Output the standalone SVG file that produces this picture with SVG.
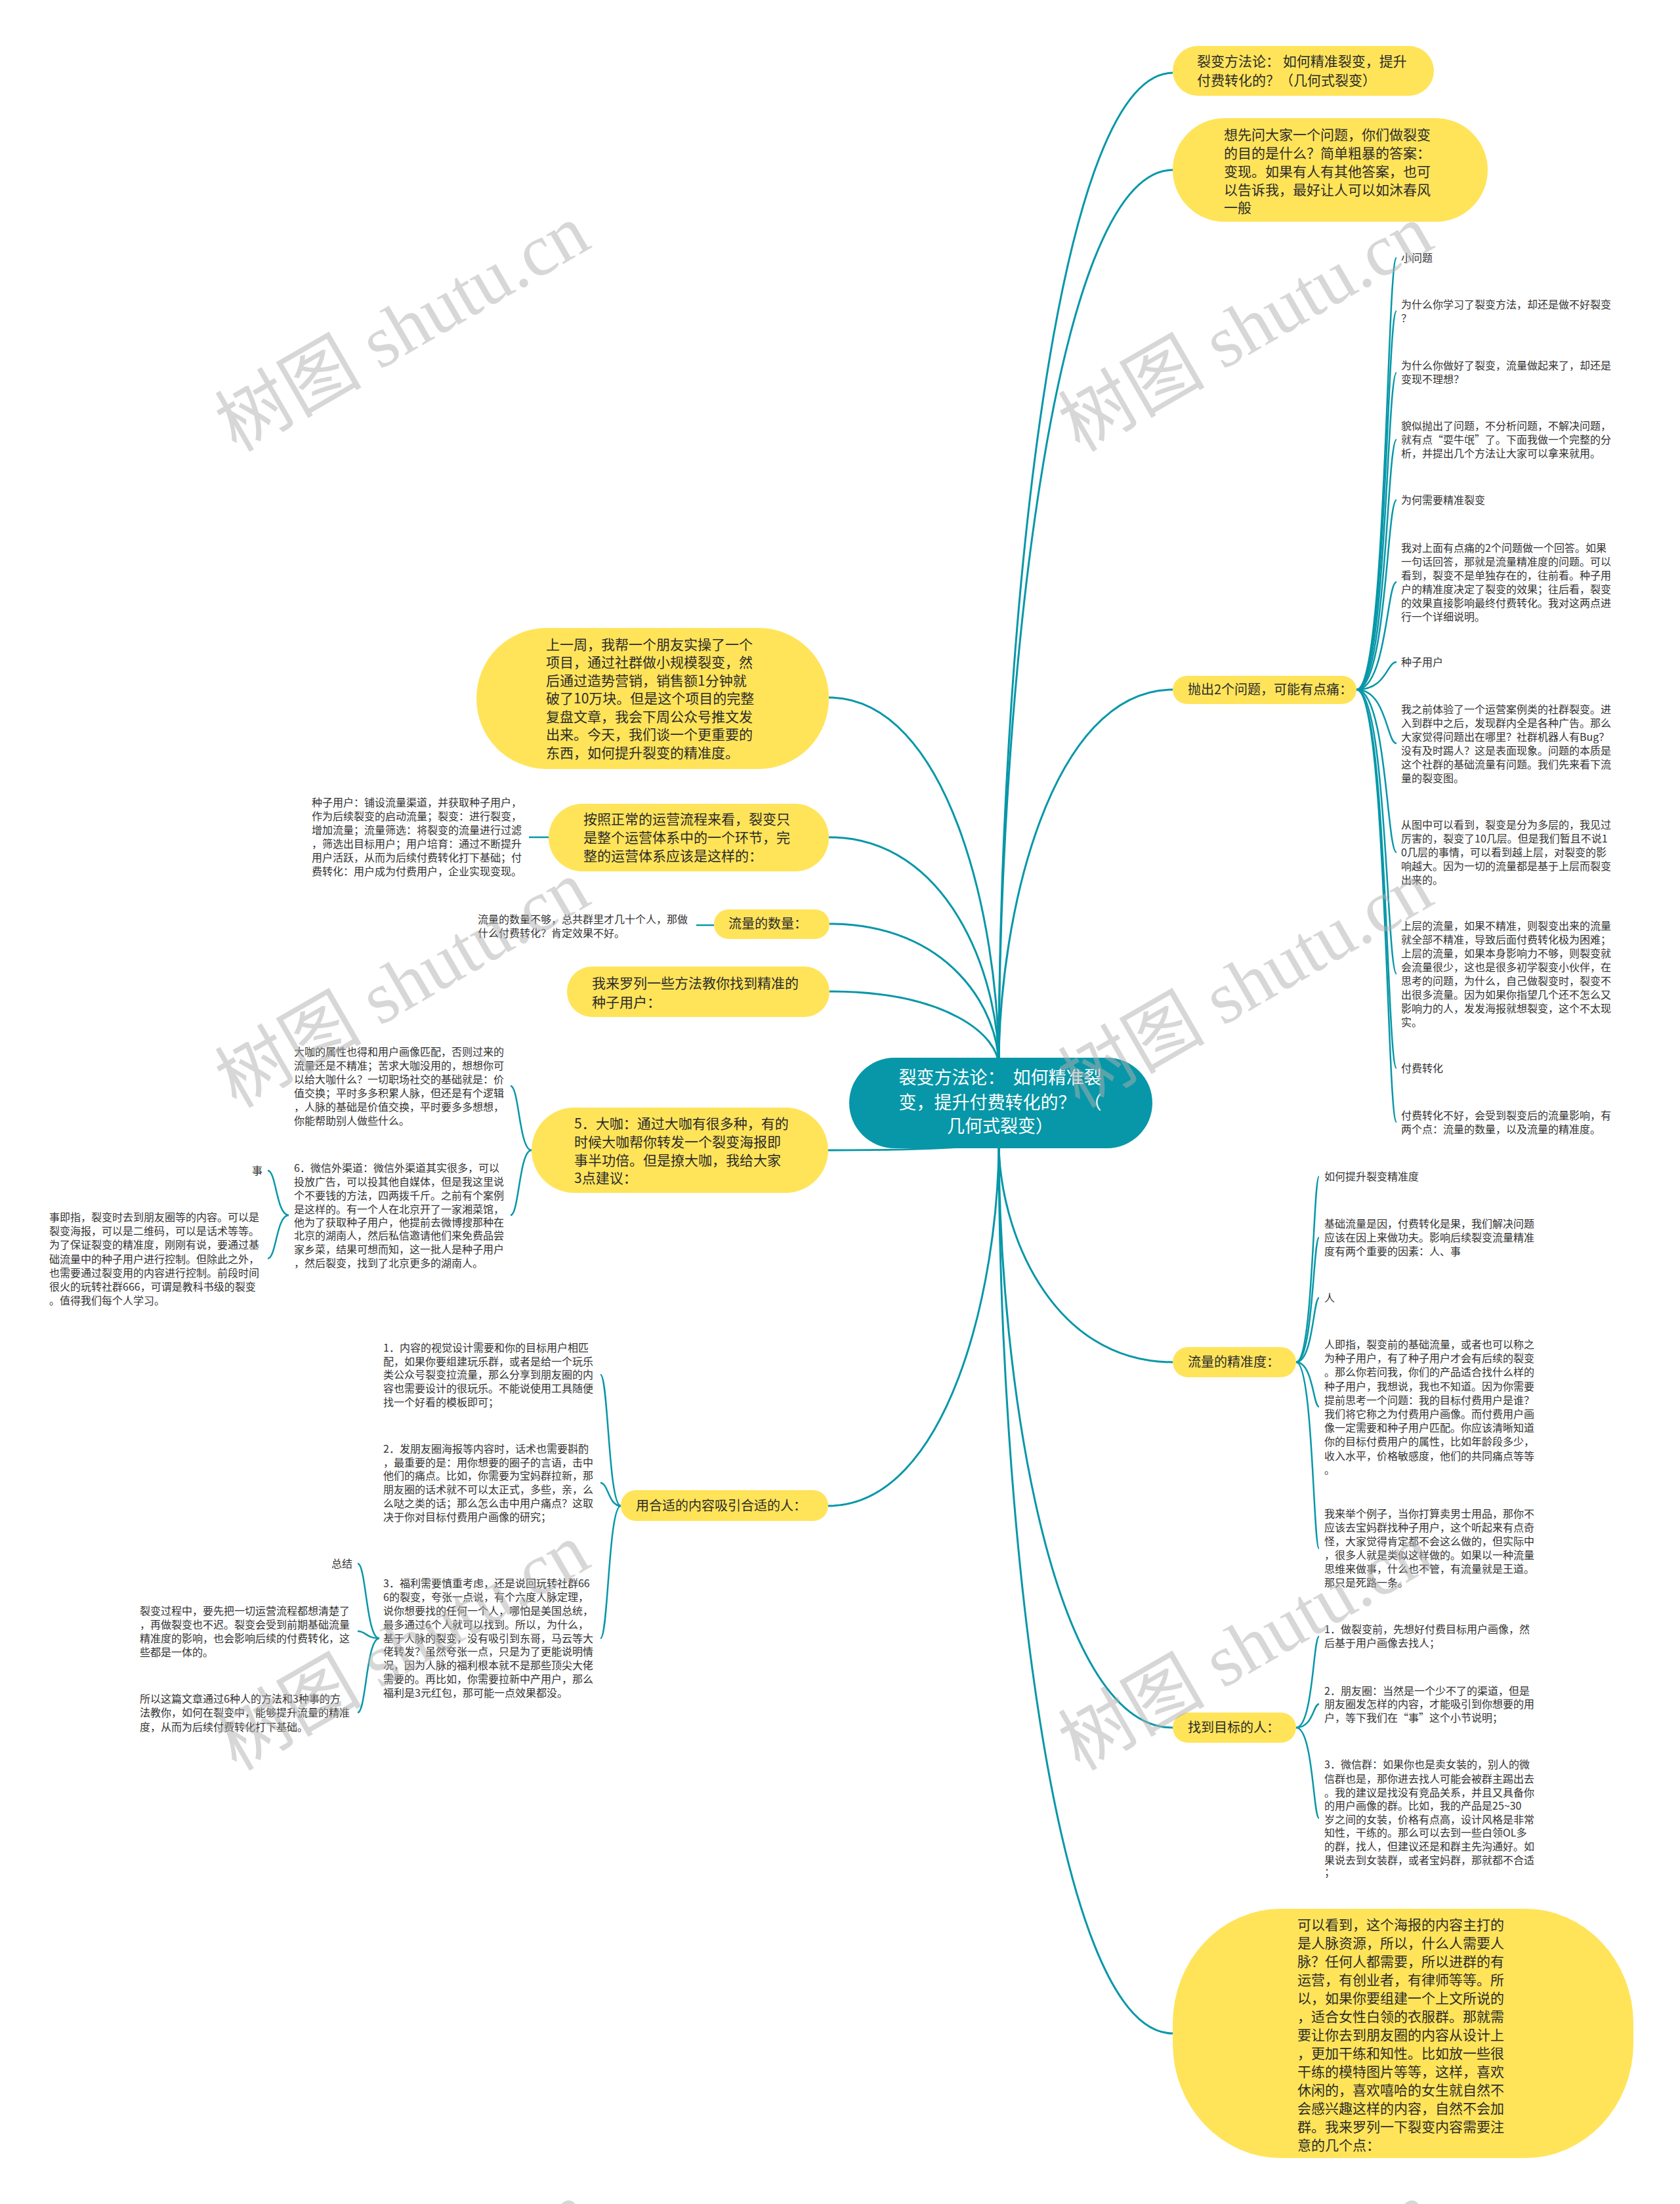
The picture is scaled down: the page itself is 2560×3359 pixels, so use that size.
<svg xmlns="http://www.w3.org/2000/svg" width="2560" height="3359" viewBox="0 0 2560 3359">
<style>
.bg{fill:#ffffff}
.c{fill:none;stroke:#0797A8;stroke-width:3}
.s{fill:none;stroke:#0797A8;stroke-width:2.5}
.y{fill:#FFE45A}
.r{fill:#0797A8}
.rt{font-family:"Noto Sans CJK SC","Noto Sans",sans-serif;font-size:27px;fill:#ffffff}
.t21{font-family:"Noto Sans CJK SC","Noto Sans",sans-serif;font-size:21px;fill:#2b2b2b}
.t20{font-family:"Noto Sans CJK SC","Noto Sans",sans-serif;font-size:20px;fill:#2b2b2b}
.t16{font-family:"Noto Sans CJK SC","Noto Sans",sans-serif;font-size:16px;fill:#333333}
.wm{font-family:"Liberation Serif","Noto Sans CJK SC",serif;font-size:112px;fill:#b0b0b0;opacity:0.5}
</style>
<rect class="bg" x="0" y="0" width="2560" height="3359"/>

<g id="connectors">
<path class="c" d="M1522,1625 C1522,1019 1601,111 1787,111"/>
<path class="c" d="M1522,1625 C1522,1079 1601,259 1787,259"/>
<path class="c" d="M1522,1625 C1522,1395 1601,1051 1787,1051"/>
<path class="c" d="M1522,1625 C1522,1400 1444,1063 1263,1063"/>
<path class="c" d="M1522,1625 C1522,1485 1444,1276 1263,1276"/>
<path class="c" d="M1522,1625 C1522,1538 1445,1408 1264,1408"/>
<path class="c" d="M1522,1625 C1522,1579 1445,1511 1264,1511"/>
<path class="c" d="M1522,1740 C1522,1745 1444,1753 1262,1753"/>
<path class="c" d="M1522,1740 C1522,1962 1444,2295 1262,2295"/>
<path class="c" d="M1522,1740 C1522,1874 1601,2076 1787,2076"/>
<path class="c" d="M1522,1740 C1522,2097 1601,2633 1787,2633"/>
<path class="c" d="M1522,1740 C1522,2284 1601,3099 1787,3099"/>

<path class="s" d="M2067,1051 C2113,1051 2113,393 2128,393"/>
<path class="s" d="M2067,1051 C2113,1051 2113,474 2128,474"/>
<path class="s" d="M2067,1051 C2113,1051 2113,568 2128,568"/>
<path class="s" d="M2067,1051 C2113,1051 2113,670 2128,670"/>
<path class="s" d="M2067,1051 C2113,1051 2113,762 2128,762"/>
<path class="s" d="M2067,1051 C2113,1051 2113,887 2128,887"/>
<path class="s" d="M2067,1051 C2113,1051 2113,1009 2128,1009"/>
<path class="s" d="M2067,1051 C2113,1051 2113,1133 2128,1133"/>
<path class="s" d="M2067,1051 C2113,1051 2113,1299 2128,1299"/>
<path class="s" d="M2067,1051 C2113,1051 2113,1484 2128,1484"/>
<path class="s" d="M2067,1051 C2113,1051 2113,1628 2128,1628"/>
<path class="s" d="M2067,1051 C2113,1051 2113,1710 2128,1710"/>

<path class="s" d="M1975,2076 C2001,2076 2001,1793 2010,1793"/>
<path class="s" d="M1975,2076 C2001,2076 2001,1886 2010,1886"/>
<path class="s" d="M1975,2076 C2001,2076 2001,1978 2010,1978"/>
<path class="s" d="M1975,2076 C2001,2076 2001,2144 2010,2144"/>
<path class="s" d="M1975,2076 C2001,2076 2001,2360 2010,2360"/>

<path class="s" d="M1975,2633 C2001,2633 2001,2494 2010,2494"/>
<path class="s" d="M1975,2633 C2001,2633 2001,2597 2010,2597"/>
<path class="s" d="M1975,2633 C2001,2633 2001,2771 2010,2771"/>

<path class="s" d="M836,1276 L806,1276"/>
<path class="s" d="M1088,1410 L1061,1410"/>

<path class="s" d="M810,1753 C791,1753 791,1655 778,1655"/>
<path class="s" d="M810,1753 C791,1753 791,1852 778,1852"/>

<path class="s" d="M440,1852 C421,1852 421,1784 408,1784"/>
<path class="s" d="M440,1852 C421,1852 421,1918 408,1918"/>

<path class="s" d="M946,2295 C927,2295 927,2095 915,2095"/>
<path class="s" d="M946,2295 C927,2295 927,2260 915,2260"/>
<path class="s" d="M946,2295 C927,2295 927,2497 915,2497"/>

<path class="s" d="M578,2497 C558,2497 558,2383 545,2383"/>
<path class="s" d="M578,2497 C558,2497 558,2486 545,2486"/>
<path class="s" d="M578,2497 C558,2497 558,2610 545,2610"/>
</g>

<g id="root">
<rect class="r" x="1294" y="1612" width="462" height="138" rx="69"/>
<text class="rt" text-anchor="middle"><tspan x="1524" y="1652">裂变方法论：&#160;&#160;如何精准裂</tspan><tspan x="1524" y="1690">变，提升付费转化的？&#160;&#160;（</tspan><tspan x="1524" y="1726">几何式裂变）</tspan></text>
</g>

<g id="n1">
<rect class="y" x="1787" y="70" width="398" height="76" rx="38"/>
<text class="t21"><tspan x="1824" y="101">裂变方法论：&#160;如何精准裂变，提升</tspan><tspan x="1824" y="130">付费转化的？（几何式裂变）</tspan></text>
</g>

<g id="n2">
<rect class="y" x="1787" y="180" width="480" height="158" rx="79"/>
<text class="t21"><tspan x="1865" y="213">想先问大家一个问题，你们做裂变</tspan><tspan x="1865" y="241">的目的是什么？简单粗暴的答案：</tspan><tspan x="1865" y="269">变现。如果有人有其他答案，也可</tspan><tspan x="1865" y="297">以告诉我，最好让人可以如沐春风</tspan><tspan x="1865" y="324">一般</tspan></text>
</g>

<g id="n3">
<rect class="y" x="1787" y="1030" width="280" height="43" rx="21.5"/>
<text class="t20" x="1810" y="1058">抛出2个问题，可能有点痛：</text>
</g>
<g id="n3a"><text class="t16" x="2135" y="399">小问题</text></g>
<g id="n3b"><text class="t16"><tspan x="2135" y="470">为什么你学习了裂变方法，却还是做不好裂变</tspan><tspan x="2135" y="491">？</tspan></text></g>
<g id="n3c"><text class="t16"><tspan x="2135" y="563">为什么你做好了裂变，流量做起来了，却还是</tspan><tspan x="2135" y="584">变现不理想？</tspan></text></g>
<g id="n3d"><text class="t16"><tspan x="2135" y="655">貌似抛出了问题，不分析问题，不解决问题，</tspan><tspan x="2135" y="676">就有点“耍牛氓”了。下面我做一个完整的分</tspan><tspan x="2135" y="697">析，并提出几个方法让大家可以拿来就用。</tspan></text></g>
<g id="n3e"><text class="t16" x="2135" y="768">为何需要精准裂变</text></g>
<g id="n3f"><text class="t16"><tspan x="2135" y="841">我对上面有点痛的2个问题做一个回答。如果</tspan><tspan x="2135" y="862">一句话回答，那就是流量精准度的问题。可以</tspan><tspan x="2135" y="883">看到，裂变不是单独存在的，往前看。种子用</tspan><tspan x="2135" y="904">户的精准度决定了裂变的效果；往后看，裂变</tspan><tspan x="2135" y="925">的效果直接影响最终付费转化。我对这两点进</tspan><tspan x="2135" y="946">行一个详细说明。</tspan></text></g>
<g id="n3g"><text class="t16" x="2135" y="1015">种子用户</text></g>
<g id="n3h"><text class="t16"><tspan x="2135" y="1087">我之前体验了一个运营案例类的社群裂变。进</tspan><tspan x="2135" y="1108">入到群中之后，发现群内全是各种广告。那么</tspan><tspan x="2135" y="1129">大家觉得问题出在哪里？社群机器人有Bug？</tspan><tspan x="2135" y="1150">没有及时踢人？这是表面现象。问题的本质是</tspan><tspan x="2135" y="1171">这个社群的基础流量有问题。我们先来看下流</tspan><tspan x="2135" y="1192">量的裂变图。</tspan></text></g>
<g id="n3i"><text class="t16"><tspan x="2135" y="1263">从图中可以看到，裂变是分为多层的，我见过</tspan><tspan x="2135" y="1284">厉害的，裂变了10几层。但是我们暂且不说1</tspan><tspan x="2135" y="1305">0几层的事情，可以看到越上层，对裂变的影</tspan><tspan x="2135" y="1326">响越大。因为一切的流量都是基于上层而裂变</tspan><tspan x="2135" y="1347">出来的。</tspan></text></g>
<g id="n3j"><text class="t16"><tspan x="2135" y="1417">上层的流量，如果不精准，则裂变出来的流量</tspan><tspan x="2135" y="1438">就全部不精准，导致后面付费转化极为困难；</tspan><tspan x="2135" y="1459">上层的流量，如果本身影响力不够，则裂变就</tspan><tspan x="2135" y="1480">会流量很少，这也是很多初学裂变小伙伴，在</tspan><tspan x="2135" y="1501">思考的问题，为什么，自己做裂变时，裂变不</tspan><tspan x="2135" y="1522">出很多流量。因为如果你指望几个还不怎么又</tspan><tspan x="2135" y="1543">影响力的人，发发海报就想裂变，这个不太现</tspan><tspan x="2135" y="1564">实。</tspan></text></g>
<g id="n3k"><text class="t16" x="2135" y="1634">付费转化</text></g>
<g id="n3l"><text class="t16"><tspan x="2135" y="1706">付费转化不好，会受到裂变后的流量影响，有</tspan><tspan x="2135" y="1727">两个点：流量的数量，以及流量的精准度。</tspan></text></g>

<g id="n4">
<rect class="y" x="1787" y="2053" width="188" height="46" rx="23"/>
<text class="t20" x="1810" y="2083">流量的精准度：</text>
</g>
<g id="n4a"><text class="t16" x="2018" y="1799">如何提升裂变精准度</text></g>
<g id="n4b"><text class="t16"><tspan x="2018" y="1871">基础流量是因，付费转化是果，我们解决问题</tspan><tspan x="2018" y="1892">应该在因上来做功夫。影响后续裂变流量精准</tspan><tspan x="2018" y="1913">度有两个重要的因素：人、事</tspan></text></g>
<g id="n4c"><text class="t16" x="2018" y="1984">人</text></g>
<g id="n4d"><text class="t16"><tspan x="2018" y="2055">人即指，裂变前的基础流量，或者也可以称之</tspan><tspan x="2018" y="2076">为种子用户，有了种子用户才会有后续的裂变</tspan><tspan x="2018" y="2097">。那么你若问我，你们的产品适合找什么样的</tspan><tspan x="2018" y="2119">种子用户，我想说，我也不知道。因为你需要</tspan><tspan x="2018" y="2140">提前思考一个问题：我的目标付费用户是谁？</tspan><tspan x="2018" y="2161">我们将它称之为付费用户画像。而付费用户画</tspan><tspan x="2018" y="2182">像一定需要和种子用户匹配。你应该清晰知道</tspan><tspan x="2018" y="2203">你的目标付费用户的属性，比如年龄段多少，</tspan><tspan x="2018" y="2225">收入水平，价格敏感度，他们的共同痛点等等</tspan><tspan x="2018" y="2246">。</tspan></text></g>
<g id="n4e"><text class="t16"><tspan x="2018" y="2313">我来举个例子，当你打算卖男士用品，那你不</tspan><tspan x="2018" y="2334">应该去宝妈群找种子用户，这个听起来有点奇</tspan><tspan x="2018" y="2355">怪，大家觉得肯定都不会这么做的，但实际中</tspan><tspan x="2018" y="2376">，很多人就是类似这样做的。如果以一种流量</tspan><tspan x="2018" y="2397">思维来做事，什么也不管，有流量就是王道。</tspan><tspan x="2018" y="2418">那只是死路一条。</tspan></text></g>

<g id="n5">
<rect class="y" x="1787" y="2610" width="188" height="46" rx="23"/>
<text class="t20" x="1810" y="2640">找到目标的人：</text>
</g>
<g id="n5a"><text class="t16"><tspan x="2018" y="2489">1．做裂变前，先想好付费目标用户画像，然</tspan><tspan x="2018" y="2510">后基于用户画像去找人；</tspan></text></g>
<g id="n5b"><text class="t16"><tspan x="2018" y="2583">2．朋友圈：当然是一个少不了的渠道，但是</tspan><tspan x="2018" y="2603">朋友圈发怎样的内容，才能吸引到你想要的用</tspan><tspan x="2018" y="2624">户，等下我们在“事”这个小节说明；</tspan></text></g>
<g id="n5c"><text class="t16"><tspan x="2018" y="2695">3．微信群：如果你也是卖女装的，别人的微</tspan><tspan x="2018" y="2717">信群也是，那你进去找人可能会被群主踢出去</tspan><tspan x="2018" y="2738">。我的建议是找没有竞品关系，并且又具备你</tspan><tspan x="2018" y="2758">的用户画像的群。比如，我的产品是25~30</tspan><tspan x="2018" y="2779">岁之间的女装，价格有点高，设计风格是非常</tspan><tspan x="2018" y="2799">知性，干练的。那么可以去到一些白领OL多</tspan><tspan x="2018" y="2820">的群，找人，但建议还是和群主先沟通好。如</tspan><tspan x="2018" y="2841">果说去到女装群，或者宝妈群，那就都不合适</tspan><tspan x="2018" y="2859">；</tspan></text></g>

<g id="n6">
<rect class="y" x="1787" y="2909" width="702" height="380" rx="165" ry="175"/>
<text class="t21"><tspan x="1977" y="2941">可以看到，这个海报的内容主打的</tspan><tspan x="1977" y="2969">是人脉资源，所以，什么人需要人</tspan><tspan x="1977" y="2997">脉？任何人都需要，所以进群的有</tspan><tspan x="1977" y="3025">运营，有创业者，有律师等等。所</tspan><tspan x="1977" y="3053">以，如果你要组建一个上文所说的</tspan><tspan x="1977" y="3081">，适合女性白领的衣服群。那就需</tspan><tspan x="1977" y="3109">要让你去到朋友圈的内容从设计上</tspan><tspan x="1977" y="3137">，更加干练和知性。比如放一些很</tspan><tspan x="1977" y="3165">干练的模特图片等等，这样，喜欢</tspan><tspan x="1977" y="3193">休闲的，喜欢嘻哈的女生就自然不</tspan><tspan x="1977" y="3221">会感兴趣这样的内容，自然不会加</tspan><tspan x="1977" y="3249">群。我来罗列一下裂变内容需要注</tspan><tspan x="1977" y="3277">意的几个点：</tspan></text>
</g>

<g id="n7">
<rect class="y" x="726" y="957" width="537" height="215" rx="107"/>
<text class="t21"><tspan x="832" y="990">上一周，我帮一个朋友实操了一个</tspan><tspan x="832" y="1017">项目，通过社群做小规模裂变，然</tspan><tspan x="832" y="1045">后通过造势营销，销售额1分钟就</tspan><tspan x="832" y="1072">破了10万块。但是这个项目的完整</tspan><tspan x="832" y="1100">复盘文章，我会下周公众号推文发</tspan><tspan x="832" y="1127">出来。今天，我们谈一个更重要的</tspan><tspan x="832" y="1155">东西，如何提升裂变的精准度。</tspan></text>
</g>

<g id="n8">
<rect class="y" x="836" y="1225" width="427" height="103" rx="51"/>
<text class="t21"><tspan x="889" y="1256">按照正常的运营流程来看，裂变只</tspan><tspan x="889" y="1284">是整个运营体系中的一个环节，完</tspan><tspan x="889" y="1312">整的运营体系应该是这样的：</tspan></text>
</g>
<g id="n8a"><text class="t16"><tspan x="475" y="1229">种子用户：铺设流量渠道，并获取种子用户，</tspan><tspan x="475" y="1250">作为后续裂变的启动流量；裂变：进行裂变，</tspan><tspan x="475" y="1271">增加流量；流量筛选：将裂变的流量进行过滤</tspan><tspan x="475" y="1292">，筛选出目标用户；用户培育：通过不断提升</tspan><tspan x="475" y="1313">用户活跃，从而为后续付费转化打下基础；付</tspan><tspan x="475" y="1334">费转化：用户成为付费用户，企业实现变现。</tspan></text></g>

<g id="n9">
<rect class="y" x="1088" y="1386" width="176" height="45" rx="22"/>
<text class="t20" x="1110" y="1415">流量的数量：</text>
</g>
<g id="n9a"><text class="t16"><tspan x="728" y="1407">流量的数量不够，总共群里才几十个人，那做</tspan><tspan x="728" y="1428">什么付费转化？肯定效果不好。</tspan></text></g>

<g id="n10">
<rect class="y" x="864" y="1473" width="400" height="77" rx="38"/>
<text class="t21"><tspan x="902" y="1506">我来罗列一些方法教你找到精准的</tspan><tspan x="902" y="1535">种子用户：</tspan></text>
</g>

<g id="n11">
<rect class="y" x="810" y="1688" width="452" height="130" rx="65"/>
<text class="t21"><tspan x="875" y="1720">5．大咖：通过大咖有很多种，有的</tspan><tspan x="875" y="1748">时候大咖帮你转发一个裂变海报即</tspan><tspan x="875" y="1776">事半功倍。但是撩大咖，我给大家</tspan><tspan x="875" y="1803">3点建议：</tspan></text>
</g>
<g id="n11a"><text class="t16"><tspan x="448" y="1609">大咖的属性也得和用户画像匹配，否则过来的</tspan><tspan x="448" y="1630">流量还是不精准；苦求大咖没用的，想想你可</tspan><tspan x="448" y="1651">以给大咖什么？一切职场社交的基础就是：价</tspan><tspan x="448" y="1672">值交换；平时多多积累人脉，但还是有个逻辑</tspan><tspan x="448" y="1693">，人脉的基础是价值交换，平时要多多想想，</tspan><tspan x="448" y="1714">你能帮助别人做些什么。</tspan></text></g>
<g id="n11b"><text class="t16"><tspan x="448" y="1786">6．微信外渠道：微信外渠道其实很多，可以</tspan><tspan x="448" y="1807">投放广告，可以投其他自媒体，但是我这里说</tspan><tspan x="448" y="1828">个不要钱的方法，四两拨千斤。之前有个案例</tspan><tspan x="448" y="1849">是这样的。有一个人在北京开了一家湘菜馆，</tspan><tspan x="448" y="1869">他为了获取种子用户，他提前去微博搜那种在</tspan><tspan x="448" y="1889">北京的湖南人，然后私信邀请他们来免费品尝</tspan><tspan x="448" y="1910">家乡菜，结果可想而知，这一批人是种子用户</tspan><tspan x="448" y="1931">，然后裂变，找到了北京更多的湖南人。</tspan></text></g>
<g id="n11c"><text class="t16" x="400" y="1790" text-anchor="end">事</text></g>
<g id="n11d"><text class="t16"><tspan x="75" y="1861">事即指，裂变时去到朋友圈等的内容。可以是</tspan><tspan x="75" y="1882">裂变海报，可以是二维码，可以是话术等等。</tspan><tspan x="75" y="1903">为了保证裂变的精准度，刚刚有说，要通过基</tspan><tspan x="75" y="1925">础流量中的种子用户进行控制。但除此之外，</tspan><tspan x="75" y="1946">也需要通过裂变用的内容进行控制。前段时间</tspan><tspan x="75" y="1967">很火的玩转社群666，可谓是教科书级的裂变</tspan><tspan x="75" y="1988">。值得我们每个人学习。</tspan></text></g>

<g id="n12">
<rect class="y" x="946" y="2271" width="316" height="47" rx="23"/>
<text class="t20" x="969" y="2302">用合适的内容吸引合适的人：</text>
</g>
<g id="n12a"><text class="t16"><tspan x="584" y="2060">1．内容的视觉设计需要和你的目标用户相匹</tspan><tspan x="584" y="2081">配，如果你要组建玩乐群，或者是给一个玩乐</tspan><tspan x="584" y="2101">类公众号裂变拉流量，那么分享到朋友圈的内</tspan><tspan x="584" y="2122">容也需要设计的很玩乐。不能说使用工具随便</tspan><tspan x="584" y="2143">找一个好看的模板即可；</tspan></text></g>
<g id="n12b"><text class="t16"><tspan x="584" y="2214">2．发朋友圈海报等内容时，话术也需要斟酌</tspan><tspan x="584" y="2235">，最重要的是：用你想要的圈子的言语，击中</tspan><tspan x="584" y="2255">他们的痛点。比如，你需要为宝妈群拉新，那</tspan><tspan x="584" y="2276">朋友圈的话术就不可以太正式，多些，亲，么</tspan><tspan x="584" y="2297">么哒之类的话；那么怎么击中用户痛点？这取</tspan><tspan x="584" y="2318">决于你对目标付费用户画像的研究；</tspan></text></g>
<g id="n12c"><text class="t16"><tspan x="584" y="2419">3．福利需要慎重考虑，还是说回玩转社群66</tspan><tspan x="584" y="2440">6的裂变，夸张一点说，有个六度人脉定理，</tspan><tspan x="584" y="2461">说你想要找的任何一个人，哪怕是美国总统，</tspan><tspan x="584" y="2482">最多通过6个人就可以找到。所以，为什么，</tspan><tspan x="584" y="2503">基于人脉的裂变，没有吸引到东哥，马云等大</tspan><tspan x="584" y="2523">佬转发？虽然夸张一点，只是为了更能说明情</tspan><tspan x="584" y="2544">况，因为人脉的福利根本就不是那些顶尖大佬</tspan><tspan x="584" y="2565">需要的。再比如，你需要拉新中产用户，那么</tspan><tspan x="584" y="2586">福利是3元红包，那可能一点效果都没。</tspan></text></g>
<g id="n12d"><text class="t16" x="537" y="2389" text-anchor="end">总结</text></g>
<g id="n12e"><text class="t16"><tspan x="213" y="2461">裂变过程中，要先把一切运营流程都想清楚了</tspan><tspan x="213" y="2482">，再做裂变也不迟。裂变会受到前期基础流量</tspan><tspan x="213" y="2503">精准度的影响，也会影响后续的付费转化，这</tspan><tspan x="213" y="2524">些都是一体的。</tspan></text></g>
<g id="n12f"><text class="t16"><tspan x="213" y="2595">所以这篇文章通过6种人的方法和3种事的方</tspan><tspan x="213" y="2616">法教你，如何在裂变中，能够提升流量的精准</tspan><tspan x="213" y="2638">度，从而为后续付费转化打下基础。</tspan></text></g>

<g id="watermarks">
<text class="wm" transform="translate(360,690) rotate(-30)">树图 shutu.cn</text>
<text class="wm" transform="translate(1645,690) rotate(-30)">树图 shutu.cn</text>
<text class="wm" transform="translate(360,1690) rotate(-30)">树图 shutu.cn</text>
<text class="wm" transform="translate(1645,1690) rotate(-30)">树图 shutu.cn</text>
<text class="wm" transform="translate(360,2700) rotate(-30)">树图 shutu.cn</text>
<text class="wm" transform="translate(1645,2700) rotate(-30)">树图 shutu.cn</text>
<text class="wm" transform="translate(360,3705) rotate(-30)">树图 shutu.cn</text>
<text class="wm" transform="translate(1645,3705) rotate(-30)">树图 shutu.cn</text>
</g>
</svg>
